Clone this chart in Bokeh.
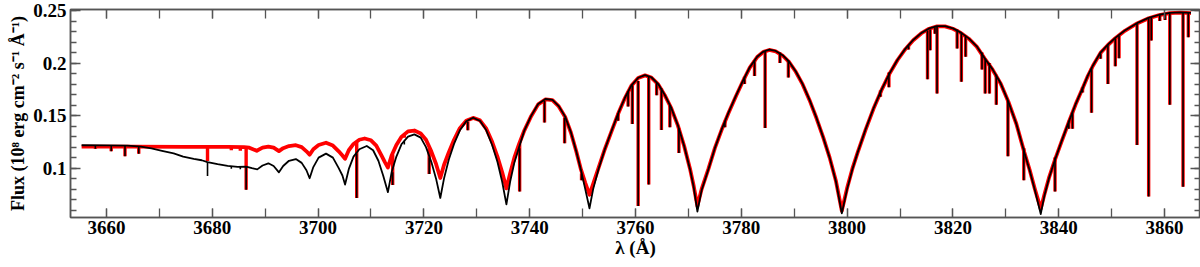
from bokeh.plotting import figure
from bokeh.models import LinearAxis, FixedTicker, Range1d
from bokeh.embed import file_html
from bokeh.resources import INLINE

# ---------------- data ----------------
black_wl = [3655.3, 3660.0, 3664.0, 3666.5, 3668.5, 3670.5, 3672.7, 3674.5, 3676.5, 3678.0,
            3679.1, 3681.0, 3682.9, 3684.8, 3686.4, 3687.5, 3688.5, 3689.5, 3690.6, 3691.6,
            3692.6, 3693.4, 3694.5, 3695.8, 3696.9, 3697.8, 3698.4, 3699.1, 3700.1, 3701.5,
            3702.8, 3703.9, 3704.6, 3705.1, 3705.8, 3706.7, 3707.8, 3709.2, 3710.4, 3711.4,
            3712.3, 3713.2, 3713.9, 3714.8, 3715.8, 3717.0, 3718.2, 3719.4, 3720.4, 3721.4,
            3722.3, 3723.1, 3723.8, 3724.7, 3725.7, 3726.8, 3728.0, 3729.3, 3730.6, 3731.8,
            3732.9, 3733.9, 3734.8, 3735.6, 3736.3, 3737.1, 3738.0, 3739.0, 3740.3, 3741.6,
            3743.0, 3744.3, 3745.5, 3746.7, 3747.8, 3748.8, 3749.7, 3750.5, 3751.3, 3752.0,
            3753.0, 3754.2, 3755.5, 3756.8, 3758.0, 3759.2, 3760.5, 3761.8, 3763.0, 3764.3,
            3765.5, 3766.7, 3768.0, 3769.2, 3770.3, 3771.0, 3771.7, 3772.5, 3773.8, 3775.0,
            3776.3, 3777.6, 3779.0, 3780.3, 3781.6, 3783.0, 3784.2, 3785.3, 3786.5, 3787.8,
            3789.0, 3790.3, 3791.6, 3792.9, 3794.2, 3795.5, 3796.7, 3797.9, 3799.0, 3800.0,
            3801.0, 3802.0, 3803.5, 3805.0, 3806.5, 3808.0, 3809.5, 3811.0, 3812.5, 3814.0,
            3815.5, 3817.0, 3818.5, 3820.0, 3821.5, 3823.0, 3824.5, 3826.0, 3827.5, 3829.0,
            3830.5, 3832.0, 3833.5, 3834.5, 3835.5, 3836.6, 3837.3, 3838.2, 3839.3, 3840.5,
            3841.9, 3843.2, 3844.5, 3845.5, 3846.5, 3847.9, 3849.3, 3850.7, 3852.5, 3854.8,
            3857.0, 3859.0, 3861.0, 3863.0, 3865.0]
black_flux = [0.1218, 0.1217, 0.1214, 0.1205, 0.1188, 0.1165, 0.1140, 0.1110, 0.1089, 0.1075,
              0.1058, 0.1038, 0.1022, 0.1012, 0.1015, 0.1000, 0.0988, 0.1025, 0.1046, 0.1020,
              0.0960, 0.1020, 0.1070, 0.1086, 0.1050, 0.0980, 0.0904, 0.1010, 0.1100, 0.1138,
              0.1100, 0.1000, 0.0930, 0.0844, 0.0990, 0.1110, 0.1180, 0.1211, 0.1170, 0.1070,
              0.0930, 0.0771, 0.0960, 0.1110, 0.1230, 0.1300, 0.1321, 0.1290, 0.1200, 0.1060,
              0.0900, 0.0716, 0.0900, 0.1080, 0.1230, 0.1360, 0.1445, 0.1480, 0.1450, 0.1360,
              0.1220, 0.1060, 0.0870, 0.0655, 0.0870, 0.1052, 0.1200, 0.1360, 0.1500, 0.1610,
              0.1658, 0.1650, 0.1590, 0.1490, 0.1340, 0.1160, 0.0980, 0.0800, 0.0618, 0.0800,
              0.0990, 0.1180, 0.1358, 0.1530, 0.1670, 0.1786, 0.1860, 0.1886, 0.1865, 0.1800,
              0.1700, 0.1580, 0.1410, 0.1210, 0.0990, 0.0820, 0.0587, 0.0790, 0.0991, 0.1190,
              0.1370, 0.1530, 0.1690, 0.1830, 0.1960, 0.2060, 0.2110, 0.2128, 0.2115, 0.2075,
              0.2015, 0.1920, 0.1800, 0.1650, 0.1480, 0.1290, 0.1100, 0.0870, 0.0569, 0.0800,
              0.0990, 0.1150, 0.1370, 0.1570, 0.1745, 0.1900, 0.2030, 0.2135, 0.2220, 0.2285,
              0.2330, 0.2352, 0.2352, 0.2330, 0.2290, 0.2235, 0.2160, 0.2045, 0.1940, 0.1810,
              0.1630, 0.1420, 0.1150, 0.0980, 0.0790, 0.0563, 0.0740, 0.0910, 0.1080, 0.1250,
              0.1440, 0.1610, 0.1760, 0.1880, 0.1980, 0.2100, 0.2175, 0.2240, 0.2310, 0.2380,
              0.2430, 0.2460, 0.2478, 0.2483, 0.2478]

red_wl = [3655.3, 3665.0, 3675.0, 3683.0, 3686.0, 3687.0, 3688.4, 3689.5, 3690.6, 3691.6,
          3692.6, 3693.4, 3694.5, 3695.8, 3696.9, 3697.8, 3698.4, 3699.1, 3700.1, 3701.5,
          3702.8, 3703.9, 3704.6, 3705.1, 3705.8, 3706.7, 3707.8, 3708.8, 3710.0, 3711.0,
          3712.0, 3712.6, 3713.2, 3713.9, 3714.8, 3715.8, 3717.0, 3718.2, 3719.4, 3720.4,
          3721.4, 3722.3, 3723.1, 3723.8, 3724.7, 3725.7, 3726.8, 3728.0, 3729.3, 3730.6,
          3731.8, 3732.9, 3733.9, 3734.8, 3735.6, 3736.3, 3737.1, 3738.0, 3739.0, 3740.3,
          3741.6, 3743.0, 3744.3, 3745.5, 3746.7, 3747.8, 3748.8, 3749.7, 3750.5, 3751.3,
          3752.0, 3753.0, 3754.2, 3755.5, 3756.8, 3758.0, 3759.2, 3760.5, 3761.8, 3763.0,
          3764.3, 3765.5, 3766.7, 3768.0, 3769.2, 3770.3, 3771.0, 3771.7, 3772.5, 3773.8,
          3775.0, 3776.3, 3777.6, 3779.0, 3780.3, 3781.6, 3783.0, 3784.2, 3785.3, 3786.5,
          3787.8, 3789.0, 3790.3, 3791.6, 3792.9, 3794.2, 3795.5, 3796.7, 3797.9, 3799.0,
          3800.0, 3801.0, 3802.0, 3803.5, 3805.0, 3806.5, 3808.0, 3809.5, 3811.0, 3812.5,
          3814.0, 3815.5, 3817.0, 3818.5, 3820.0, 3821.5, 3823.0, 3824.5, 3826.0, 3827.5,
          3829.0, 3830.5, 3832.0, 3833.5, 3834.5, 3835.5, 3836.6, 3837.3, 3838.2, 3839.3,
          3840.5, 3841.9, 3843.2, 3844.5, 3845.5, 3846.5, 3847.9, 3849.3, 3850.7, 3852.5,
          3854.8, 3857.0, 3859.0, 3861.0, 3863.0, 3865.0]
red_flux = [0.1205, 0.1205, 0.1203, 0.1202, 0.1200, 0.1195, 0.1165, 0.1195, 0.1205, 0.1195,
            0.1162, 0.1190, 0.1210, 0.1218, 0.1200, 0.1160, 0.1128, 0.1180, 0.1220, 0.1242,
            0.1215, 0.1160, 0.1120, 0.1089, 0.1170, 0.1230, 0.1270, 0.1282, 0.1265, 0.1215,
            0.1120, 0.1060, 0.1006, 0.1120, 0.1220, 0.1300, 0.1350, 0.1358, 0.1330, 0.1270,
            0.1160, 0.1040, 0.0906, 0.1030, 0.1150, 0.1270, 0.1380, 0.1450, 0.1478, 0.1455,
            0.1375, 0.1250, 0.1110, 0.0960, 0.0807, 0.0950, 0.1100, 0.1230, 0.1360, 0.1497,
            0.1607, 0.1655, 0.1647, 0.1587, 0.1487, 0.1337, 0.1160, 0.0985, 0.0860, 0.0747,
            0.0850, 0.1000, 0.1180, 0.1355, 0.1527, 0.1667, 0.1783, 0.1857, 0.1883, 0.1862,
            0.1797, 0.1697, 0.1577, 0.1407, 0.1210, 0.0995, 0.0830, 0.0639, 0.0800, 0.0995,
            0.1190, 0.1367, 0.1527, 0.1687, 0.1827, 0.1957, 0.2057, 0.2107, 0.2125, 0.2112,
            0.2072, 0.2012, 0.1917, 0.1797, 0.1647, 0.1477, 0.1290, 0.1100, 0.0875, 0.0594,
            0.0810, 0.0995, 0.1150, 0.1367, 0.1567, 0.1742, 0.1897, 0.2027, 0.2132, 0.2217,
            0.2282, 0.2327, 0.2349, 0.2349, 0.2327, 0.2287, 0.2232, 0.2157, 0.2042, 0.1937,
            0.1807, 0.1630, 0.1420, 0.1150, 0.0985, 0.0800, 0.0612, 0.0750, 0.0915, 0.1080,
            0.1247, 0.1437, 0.1607, 0.1757, 0.1877, 0.1977, 0.2097, 0.2172, 0.2237, 0.2307,
            0.2377, 0.2427, 0.2457, 0.2475, 0.2480, 0.2475]

# narrow absorption lines: wavelength, top and bottom for each model
line_wl = [3657.9, 3660.9, 3663.5, 3666.1, 3679.1, 3683.6, 3685.3, 3686.4, 3707.3, 3714.1,
           3716.3, 3721.0, 3728.3, 3738.1, 3742.8, 3746.6, 3749.8, 3756.7, 3758.6, 3759.4,
           3760.5, 3762.5, 3764.0, 3764.9, 3766.5, 3768.2, 3776.9, 3780.6, 3782.5, 3784.5,
           3787.3, 3788.9, 3806.3, 3807.9, 3811.6, 3815.2, 3815.7, 3816.6, 3817.0, 3820.8,
           3821.6, 3822.4, 3825.5, 3826.1, 3826.9, 3828.2, 3830.4, 3833.4, 3839.3, 3841.9,
           3842.6, 3844.5, 3846.2, 3847.9, 3849.3, 3850.7, 3851.4, 3854.8, 3857.0, 3857.5,
           3859.1, 3860.1, 3861.0, 3863.5, 3864.5]
black_line_top = [0.1217, 0.1216, 0.1214, 0.1205, 0.1058, 0.1018, 0.1012, 0.1013, 0.1140, 0.0960,
                  0.1260, 0.1100, 0.1440, 0.1190, 0.1640, 0.1480, 0.0950, 0.1520, 0.1730, 0.1790,
                  0.1830, 0.1870, 0.1810, 0.1760, 0.1600, 0.1380, 0.1450, 0.1870, 0.2030, 0.2110,
                  0.2100, 0.2030, 0.1740, 0.1910, 0.2170, 0.2310, 0.2320, 0.2340, 0.2345, 0.2320,
                  0.2290, 0.2260, 0.2100, 0.2040, 0.2000, 0.1890, 0.1640, 0.1190, 0.1100, 0.1450,
                  0.1530, 0.1770, 0.1950, 0.2090, 0.2170, 0.2235, 0.2260, 0.2375, 0.2425, 0.2435,
                  0.2455, 0.2465, 0.2475, 0.2478, 0.2478]
black_line_bottom = [0.1185, 0.1160, 0.1114, 0.1138, 0.0924, 0.0995, 0.0990, 0.0793, 0.0716, 0.0840,
                     0.1225, 0.0945, 0.1360, 0.0777, 0.1435, 0.1236, 0.0884, 0.1450, 0.1587, 0.1419,
                     0.0639, 0.0844, 0.1694, 0.1364, 0.1389, 0.1144, 0.1390, 0.1800, 0.1878, 0.1383,
                     0.2000, 0.1862, 0.1680, 0.1771, 0.2130, 0.1847, 0.2123, 0.2280, 0.1710, 0.2138,
                     0.1823, 0.2061, 0.1940, 0.1710, 0.1710, 0.1603, 0.1114, 0.0884, 0.0777, 0.1374,
                     0.1374, 0.1720, 0.1527, 0.2040, 0.1801, 0.1970, 0.2046, 0.1220, 0.0731, 0.2215,
                     0.2400, 0.2410, 0.1603, 0.0822, 0.2245]
red_line_top = [0.1205, 0.1205, 0.1205, 0.1205, 0.1202, 0.1200, 0.1200, 0.1200, 0.1245, 0.1130,
                0.1320, 0.1190, 0.1440, 0.1230, 0.1640, 0.1480, 0.0950, 0.1520, 0.1730, 0.1790,
                0.1830, 0.1870, 0.1810, 0.1760, 0.1600, 0.1380, 0.1450, 0.1870, 0.2030, 0.2110,
                0.2100, 0.2030, 0.1740, 0.1910, 0.2170, 0.2310, 0.2320, 0.2340, 0.2345, 0.2320,
                0.2290, 0.2260, 0.2100, 0.2040, 0.2000, 0.1890, 0.1640, 0.1190, 0.1100, 0.1450,
                0.1530, 0.1770, 0.1950, 0.2090, 0.2170, 0.2235, 0.2260, 0.2375, 0.2425, 0.2435,
                0.2455, 0.2465, 0.2475, 0.2478, 0.2478]
red_line_bottom = [0.1185, 0.1160, 0.1114, 0.1138, 0.1068, 0.1170, 0.1165, 0.0793, 0.0716, 0.0840,
                   0.1290, 0.0945, 0.1360, 0.0777, 0.1435, 0.1236, 0.0884, 0.1450, 0.1587, 0.1419,
                   0.0639, 0.0844, 0.1694, 0.1364, 0.1389, 0.1144, 0.1390, 0.1800, 0.1878, 0.1383,
                   0.2000, 0.1862, 0.1680, 0.1771, 0.2130, 0.1847, 0.2123, 0.2280, 0.1710, 0.2138,
                   0.1823, 0.2061, 0.1940, 0.1710, 0.1710, 0.1603, 0.1114, 0.0884, 0.0777, 0.1374,
                   0.1374, 0.1720, 0.1527, 0.2040, 0.1801, 0.1970, 0.2046, 0.1220, 0.0731, 0.2215,
                   0.2400, 0.2410, 0.1603, 0.0822, 0.2245]

x_major_ticks = [3660, 3680, 3700, 3720, 3740, 3760, 3780, 3800, 3820, 3840, 3860]
x_minor_ticks = [3660, 3670, 3680, 3690, 3700, 3710, 3720, 3730, 3740, 3750, 3760, 3770,
                 3780, 3790, 3800, 3810, 3820, 3830, 3840, 3850, 3860]
y_major_ticks = [0.1, 0.15, 0.2, 0.25]
y_tick_labels = ["0.1", "0.15", "0.2", "0.25"]
y_minor_ticks = [0.06, 0.07, 0.08, 0.09, 0.10, 0.11, 0.12, 0.13, 0.14, 0.15, 0.16, 0.17,
                 0.18, 0.19, 0.20, 0.21, 0.22, 0.23, 0.24, 0.25]

X0, X1 = 3653.2, 3866.8
Y0, Y1 = 0.053, 0.251
FONT = "Liberation Serif"
AX = "#555555"
TICK_FS = "19px"

p = figure(width=1200, height=267,
           x_range=Range1d(X0, X1), y_range=Range1d(Y0, Y1),
           output_backend="svg", toolbar_location=None,
           min_border_left=70, min_border_right=0, min_border_top=9, min_border_bottom=50,
           x_axis_label="λ (Å)",
           y_axis_label="Flux (10⁸ erg cm⁻² s⁻¹ Å⁻¹)")
p.xgrid.visible = False
p.ygrid.visible = False
p.outline_line_color = AX
p.outline_line_width = 1.5
p.background_fill_color = "white"
p.border_fill_color = "white"

# spectra: red first, black on top
p.line(red_wl, red_flux, line_color="#ff0000", line_width=3.8, line_join="round")
p.segment(x0=line_wl, y0=red_line_top, x1=line_wl, y1=red_line_bottom,
          line_color="#ff0000", line_width=3.4)
p.line(black_wl, black_flux, line_color="black", line_width=1.8, line_join="round")
p.segment(x0=line_wl, y0=black_line_top, x1=line_wl, y1=black_line_bottom,
          line_color="black", line_width=1.6)


def style(ax, major_in, minor_in, labels=True):
    ax.axis_line_color = AX
    ax.axis_line_width = 1.5
    ax.major_tick_line_color = AX
    ax.minor_tick_line_color = AX
    ax.major_tick_line_width = 1.3
    ax.minor_tick_line_width = 1.3
    ax.major_tick_out = 0
    ax.minor_tick_out = 0
    ax.major_tick_in = major_in
    ax.minor_tick_in = minor_in
    ax.major_label_text_font = FONT
    ax.major_label_text_font_style = "bold"
    ax.major_label_text_color = "black"
    ax.axis_label_text_font = FONT
    ax.axis_label_text_font_style = "bold"
    ax.axis_label_text_color = "black"
    ax.axis_label_text_font_size = "19px"
    if labels:
        ax.major_label_text_font_size = TICK_FS
    else:
        ax.major_label_text_font_size = "1px"
        ax.major_label_standoff = 0


xt = FixedTicker(ticks=x_major_ticks, minor_ticks=x_minor_ticks)
yt = FixedTicker(ticks=y_major_ticks, minor_ticks=y_minor_ticks)

p.xaxis.ticker = xt
p.yaxis.ticker = yt
style(p.xaxis[0], 9, 9)
style(p.yaxis[0], 10, 6)
p.yaxis.axis_label_text_font_size = "18px"
p.xaxis.major_label_standoff = 3
p.xaxis.axis_label_standoff = 0
p.yaxis.major_label_standoff = 4
p.yaxis.axis_label_standoff = 2
p.yaxis.major_label_overrides = {v: s for v, s in zip(y_major_ticks, y_tick_labels)}

top_ax = LinearAxis(ticker=FixedTicker(ticks=x_major_ticks, minor_ticks=x_minor_ticks))
style(top_ax, 9, 9, labels=False)
top_ax.major_label_overrides = {v: "" for v in x_major_ticks}
p.add_layout(top_ax, "above")
right_ax = LinearAxis(ticker=FixedTicker(ticks=y_major_ticks, minor_ticks=y_minor_ticks))
style(right_ax, 10, 6, labels=False)
right_ax.major_label_overrides = {v: "" for v in y_major_ticks}
p.add_layout(right_ax, "right")

open("out.html", "w").write(file_html(p, INLINE))
